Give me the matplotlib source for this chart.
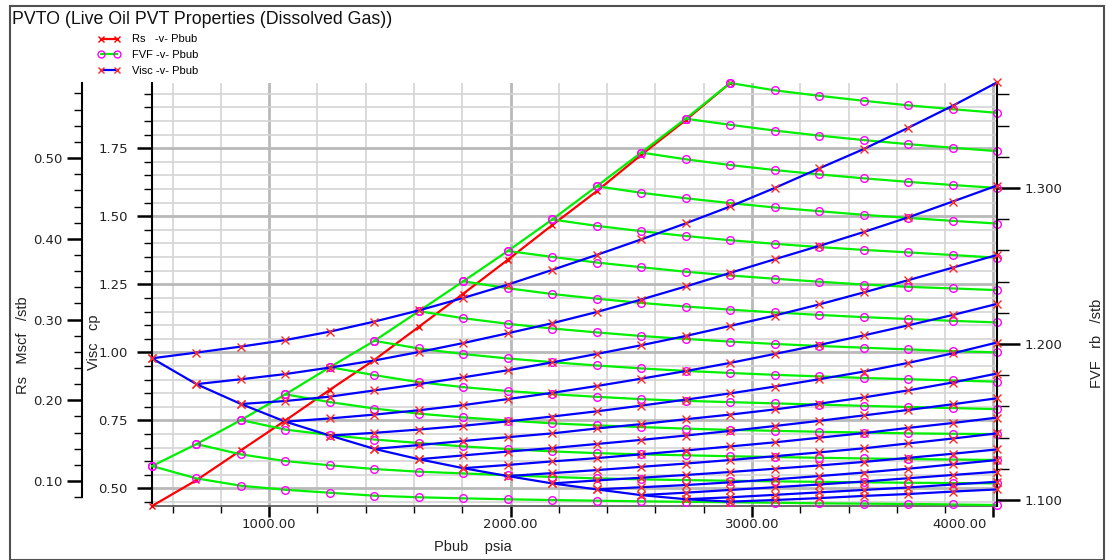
import matplotlib
matplotlib.use("Agg")
import matplotlib.pyplot as plt
from matplotlib.lines import Line2D
from matplotlib.patches import Rectangle
from matplotlib.legend_handler import HandlerLine2D
from matplotlib.ticker import MultipleLocator, FormatStrFormatter
from matplotlib.transforms import offset_copy

# bubble point pressures (psia)
pbub = [514.7, 698.9, 883.1, 1067.3, 1251.5, 1435.8, 1620.0, 1804.2, 1988.4,
        2172.6, 2356.8, 2541.0, 2725.2, 2909.4, 3093.7, 3277.9, 3462.1,
        3646.3, 3830.5, 4014.7]

# dissolved gas at each saturated node (Mscf/stb)
rs_sat = [0.069, 0.101, 0.138, 0.175, 0.213, 0.250, 0.291, 0.332, 0.374,
          0.417, 0.459, 0.504, 0.547, 0.593]

# FVF (rb/stb) per Rs row: saturated value, then undersaturated up to max pressure
fvf_rows = [
    [1.1217, 1.1138, 1.1091, 1.1065, 1.1046, 1.1027, 1.1017, 1.1010, 1.1004, 1.0999,
     1.0995, 1.0991, 1.0988, 1.0985, 1.0982, 1.0978, 1.0976, 1.0974, 1.0971, 1.0967],
    [1.1358, 1.1292, 1.1249, 1.1222, 1.1198, 1.1181, 1.1170, 1.1158, 1.1147, 1.1138,
     1.1132, 1.1127, 1.1123, 1.1119, 1.1116, 1.1113, 1.1110, 1.1108, 1.1106],
    [1.1512, 1.1451, 1.1416, 1.1387, 1.1365, 1.1343, 1.1326, 1.1311, 1.1300, 1.1292,
     1.1286, 1.1280, 1.1275, 1.1270, 1.1266, 1.1262, 1.1259, 1.1256],
    [1.1677, 1.1627, 1.1586, 1.1553, 1.1529, 1.1509, 1.1491, 1.1478, 1.1467, 1.1457,
     1.1449, 1.1443, 1.1437, 1.1432, 1.1427, 1.1424, 1.1422],
    [1.1851, 1.1800, 1.1755, 1.1723, 1.1698, 1.1678, 1.1661, 1.1646, 1.1635, 1.1627,
     1.1619, 1.1611, 1.1603, 1.1596, 1.1589, 1.1582],
    [1.2020, 1.1971, 1.1935, 1.1907, 1.1883, 1.1862, 1.1843, 1.1827, 1.1814, 1.1802,
     1.1792, 1.1782, 1.1774, 1.1766, 1.1758],
    [1.2210, 1.2165, 1.2129, 1.2099, 1.2074, 1.2051, 1.2032, 1.2015, 1.2000, 1.1987,
     1.1976, 1.1965, 1.1954, 1.1946],
    [1.2402, 1.2357, 1.2320, 1.2290, 1.2263, 1.2240, 1.2220, 1.2202, 1.2186, 1.2172,
     1.2160, 1.2148, 1.2138],
    [1.2596, 1.2558, 1.2522, 1.2492, 1.2463, 1.2439, 1.2418, 1.2399, 1.2381, 1.2366,
     1.2356, 1.2345],
    [1.2798, 1.2757, 1.2723, 1.2692, 1.2665, 1.2642, 1.2621, 1.2603, 1.2587, 1.2570,
     1.2553],
    [1.3011, 1.2969, 1.2934, 1.2903, 1.2875, 1.2851, 1.2828, 1.2808, 1.2789, 1.2772],
    [1.3227, 1.3184, 1.3147, 1.3115, 1.3087, 1.3062, 1.3039, 1.3019, 1.3000],
    [1.3444, 1.3405, 1.3368, 1.3336, 1.3307, 1.3281, 1.3258, 1.3236],
    [1.3673, 1.3626, 1.3591, 1.3559, 1.3530, 1.3505, 1.3482],
]

# oil viscosity (cp), same layout as fvf_rows
visc_rows = [
    [0.978, 0.999, 1.021, 1.045, 1.076, 1.113, 1.154, 1.200, 1.249, 1.303,
     1.358, 1.415, 1.474, 1.536, 1.604, 1.676, 1.747, 1.825, 1.906, 1.992],
    [0.883, 0.901, 0.920, 0.944, 0.970, 1.001, 1.034, 1.070, 1.107, 1.148,
     1.194, 1.242, 1.292, 1.342, 1.391, 1.442, 1.496, 1.554, 1.613],
    [0.810, 0.821, 0.837, 0.860, 0.883, 0.908, 0.934, 0.963, 0.994, 1.026,
     1.060, 1.097, 1.135, 1.176, 1.220, 1.265, 1.311, 1.358],
    [0.745, 0.757, 0.771, 0.787, 0.806, 0.828, 0.851, 0.876, 0.903, 0.931,
     0.961, 0.994, 1.027, 1.062, 1.099, 1.137, 1.178],
    [0.694, 0.704, 0.716, 0.730, 0.746, 0.764, 0.783, 0.804, 0.826, 0.849,
     0.874, 0.901, 0.929, 0.961, 0.996, 1.036],
    [0.645, 0.659, 0.674, 0.688, 0.702, 0.720, 0.736, 0.754, 0.771, 0.790,
     0.811, 0.834, 0.860, 0.889, 0.922],
    [0.607, 0.621, 0.635, 0.648, 0.663, 0.678, 0.694, 0.711, 0.729, 0.748,
     0.768, 0.788, 0.809, 0.831],
    [0.574, 0.586, 0.599, 0.611, 0.625, 0.639, 0.654, 0.669, 0.686, 0.703,
     0.722, 0.740, 0.760],
    [0.545, 0.556, 0.567, 0.579, 0.591, 0.604, 0.618, 0.632, 0.647, 0.665,
     0.683, 0.702],
    [0.518, 0.529, 0.539, 0.549, 0.560, 0.572, 0.584, 0.597, 0.612, 0.627, 0.643],
    [0.496, 0.504, 0.512, 0.522, 0.533, 0.545, 0.558, 0.572, 0.588, 0.604],
    [0.475, 0.484, 0.494, 0.504, 0.514, 0.525, 0.537, 0.549, 0.561],
    [0.460, 0.467, 0.476, 0.485, 0.494, 0.503, 0.514, 0.524],
    [0.451, 0.457, 0.464, 0.472, 0.479, 0.488, 0.496],
]

pres_ticks = [1000, 2000, 3000, 4000]

W, H = 1108, 560
TICKFONT = "DejaVu Sans"
TEXTFONT = "Liberation Sans"
RED, GREEN, BLUE, MAG = "#ff0000", "#00f000", "#0000ff", "#ff00ff"
XRED = "#ff2828"


def px(x0, y0, w, h):
    # pixel box (top-left origin) -> figure fraction rect
    return [x0 / W, 1 - (y0 + h) / H, w / W, h / H]


fig = plt.figure(figsize=(W / 100, H / 100), dpi=100)
fig.patch.set_facecolor("white")

ax = fig.add_axes(px(152, 83, 845, 423))   # grid + visc scale
ax_rs = ax.twinx()
ax_fvf = ax.twinx()
ax_mu = ax.twinx()

ax.set_xlim(514.7, 4014.7)
ax.set_ylim(0.435, 1.990)
ax_mu.set_ylim(0.435, 1.990)
ax_rs.set_ylim(0.069, 0.593)
ax_fvf.set_ylim(1.0961, 1.3673)

# ---- grid / pressure axis
ax.set_xticks(pres_ticks)
ax.xaxis.set_minor_locator(MultipleLocator(200))
ax.xaxis.set_major_formatter(FormatStrFormatter("%.2f"))
ax.yaxis.set_major_locator(MultipleLocator(0.25))
ax.yaxis.set_minor_locator(MultipleLocator(0.05))
ax.yaxis.set_major_formatter(FormatStrFormatter("%.2f"))
ax.grid(which="major", color="#b9b9b9", lw=2.0)
ax.grid(which="minor", color="#d4d4d4", lw=1.2)
ax.set_axisbelow(True)
for s in ("top", "right"):
    ax.spines[s].set_visible(False)
ax.spines["left"].set_linewidth(1.5)
ax.spines["left"].set_bounds(0.447, 1.990)
ax.spines["bottom"].set_linewidth(1.2)
ax.spines["bottom"].set_color("#505050")
ax.tick_params(axis="y", which="major", length=11, width=1.8, pad=6.5,
               labelsize=9.5, labelcolor="#222222")
ax.tick_params(axis="y", which="minor", length=6, width=1.0)
ax.tick_params(axis="x", which="major", length=8, width=1.8, pad=0.5,
               labelsize=9.5, labelcolor="#222222")
ax.tick_params(axis="x", which="minor", length=5, width=1.0)

# ---- Rs axis, further left
for s in ("top", "right", "bottom"):
    ax_rs.spines[s].set_visible(False)
ax_rs.spines["left"].set_position(("axes", -70 / 845))
ax_rs.spines["left"].set_linewidth(1.5)
ax_rs.spines["left"].set_bounds(0.08, 0.593)
ax_rs.yaxis.set_ticks_position("left")
ax_rs.yaxis.set_major_locator(MultipleLocator(0.1))
ax_rs.yaxis.set_minor_locator(MultipleLocator(0.02))
ax_rs.yaxis.set_major_formatter(FormatStrFormatter("%.2f"))
ax_rs.tick_params(axis="y", which="major", length=11, width=1.8, pad=3,
                  labelsize=9.5, labelcolor="#222222")
ax_rs.tick_params(axis="y", which="minor", length=6, width=1.0)

# ---- FVF axis on the right
for s in ("top", "left", "bottom"):
    ax_fvf.spines[s].set_visible(False)
ax_fvf.spines["right"].set_linewidth(1.5)
ax_fvf.yaxis.set_major_locator(MultipleLocator(0.1))
ax_fvf.yaxis.set_minor_locator(MultipleLocator(0.02))
ax_fvf.yaxis.set_major_formatter(FormatStrFormatter("%.3f"))
ax_fvf.tick_params(axis="y", which="major", length=16.5, width=1.8, pad=3,
                   labelsize=9.5, labelcolor="#222222")
ax_fvf.tick_params(axis="y", which="minor", length=8.5, width=1.0)

ax_mu.axis("off")

for a in (ax, ax_rs, ax_fvf):
    for lbl in a.get_xticklabels() + a.get_yticklabels():
        lbl.set_fontfamily(TICKFONT)

# ---- data
line_kw = dict(clip_on=False, lw=1.6)
ax_rs.plot(pbub[:len(rs_sat)], rs_sat, color=RED, marker="x", ms=5,
           mec=RED, mew=1.0, **line_kw)

for row in fvf_rows:
    ax_fvf.plot(pbub[-len(row):], row, color=GREEN, marker="o", ms=5.5,
                mfc="none", mec=MAG, mew=1.0, **line_kw)
ax_fvf.plot(pbub[:len(fvf_rows)], [r[0] for r in fvf_rows], color=GREEN,
            marker="o", ms=5.5, mfc="none", mec=MAG, mew=1.0, **line_kw)

for row in visc_rows:
    ax_mu.plot(pbub[-len(row):], row, color=BLUE, marker="x", ms=5.5,
               mec=XRED, mew=1.0, **line_kw)
ax_mu.plot(pbub[:len(visc_rows)], [r[0] for r in visc_rows], color=BLUE,
           marker="x", ms=5.5, mec=XRED, mew=1.0, **line_kw)

# last pressure label pulled inside the frame
last = ax.xaxis.get_major_ticks()[-1].label1
last.set_horizontalalignment("right")
last.set_transform(offset_copy(last.get_transform(), fig=fig, x=-7, y=0, units="dots"))

# ---- texts
lab_kw = dict(ha="center", va="center", fontsize=10.5, family=TEXTFONT, color="#222222")
fig.text(12 / W, 1 - 20 / H, "PVTO (Live Oil PVT Properties (Dissolved Gas))",
         ha="left", va="center", fontsize=12.8, family=TEXTFONT, color="#111111")
fig.text(473 / W, 1 - 547 / H, "Pbub    psia", **lab_kw)
fig.text(23 / W, 1 - 345 / H, "Rs   Mscf   /stb", rotation=90, **lab_kw)
fig.text(94 / W, 1 - 342 / H, "Visc   cp", rotation=90, **lab_kw)
fig.text(1097 / W, 1 - 343 / H, "FVF   rb   /stb", rotation=90, **lab_kw)

handles = [
    Line2D([], [], color=RED, lw=1.6, marker="x", ms=5, mec=RED),
    Line2D([], [], color=GREEN, lw=1.6, marker="o", ms=5, mfc="none", mec=MAG),
    Line2D([], [], color=BLUE, lw=1.6, marker="x", ms=5, mec=XRED),
]
labels = ["Rs   -v- Pbub", "FVF -v- Pbub", "Visc -v- Pbub"]
fig.legend(handles, labels, loc="upper left", bbox_to_anchor=(89 / W, 1 - 34.5 / H),
           frameon=False, numpoints=2, handlelength=3.6, handletextpad=0.3,
           labelspacing=0.5, borderpad=0, borderaxespad=0,
           prop={"family": TEXTFONT, "size": 8},
           handler_map={Line2D: HandlerLine2D(marker_pad=1.1)})

# outer frame
fig.add_artist(Rectangle((10 / W, 0), 1094 / W, 1 - 6 / H, transform=fig.transFigure,
                         fill=False, edgecolor="#505050", lw=1.5))

fig.savefig("out.png", dpi=100)
